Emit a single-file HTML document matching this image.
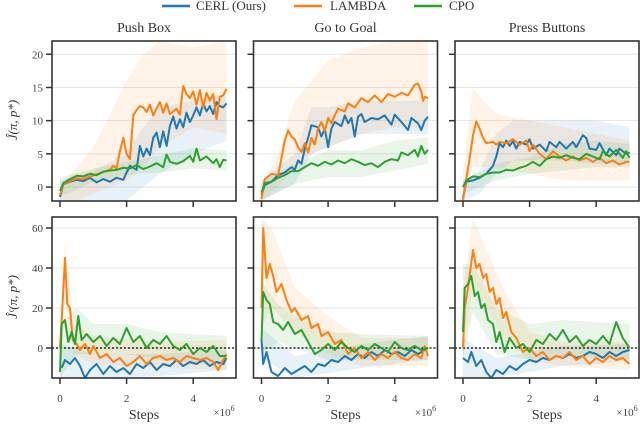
<!DOCTYPE html>
<html><head><meta charset="utf-8">
<style>
body{margin:0;background:#fff;}
svg{display:block;font-family:"Liberation Serif",serif;}
</style></head>
<body>
<svg id="chart" width="640" height="441" viewBox="0 0 640 441" xmlns="http://www.w3.org/2000/svg">
<g id="legend">
 <line x1="162" y1="6" x2="190" y2="6" stroke="#1f77b4" stroke-width="2.5"/>
 <text x="196" y="10" font-size="13" fill="#333">CERL (Ours)</text>
 <line x1="294" y1="6" x2="322" y2="6" stroke="#ff7f0e" stroke-width="2.5"/>
 <text x="330" y="10" font-size="13" fill="#333">LAMBDA</text>
 <line x1="414" y1="6" x2="442" y2="6" stroke="#2ca02c" stroke-width="2.5"/>
 <text x="449" y="10" font-size="13" fill="#333">CPO</text>
</g>
<text transform="translate(17,120) rotate(-90)" text-anchor="middle" font-size="13" font-style="italic" fill="#333">Ĵ(π, p*)</text>
<text transform="translate(17,297) rotate(-90)" text-anchor="middle" font-size="13" font-style="italic" fill="#333">Ĵᶜ(π, p*)</text>
</svg>
<script>
// ---- data (x in 1e6 steps) ----
const titles = ["Push Box","Go to Goal","Press Buttons"];
const topTicks = [0,5,10,15,20];
const botTicks = [0,20,40,60];
const xTicks = [0,2,4];
const topBlue0 = [[0,-1.5],[0.1,0.4],[0.3,0.8],[0.5,1.1],[0.7,0.9],[0.9,1.4],[1.1,0.7],[1.3,1.2],[1.5,0.8],[1.7,1.4],[1.9,1.1],[2.0,2.2],[2.1,3.2],[2.3,2.6],[2.4,6.2],[2.5,4.6],[2.6,5.8],[2.7,4.8],[2.8,7.4],[2.9,8.2],[3.0,6.0],[3.1,8.4],[3.2,6.2],[3.3,9.2],[3.4,10.6],[3.5,8.8],[3.6,10.2],[3.7,9.0],[3.8,11.2],[3.9,9.8],[4.0,10.8],[4.1,12.0],[4.2,10.8],[4.3,12.6],[4.4,11.4],[4.5,12.2],[4.6,11.0],[4.7,12.8],[4.8,12.2],[4.9,12.0],[5.0,12.6]];
const topOrange0 = [[0,-1.2],[0.1,0.4],[0.3,0.9],[0.5,1.3],[0.7,1.2],[0.9,1.6],[1.1,1.9],[1.3,2.3],[1.5,2.6],[1.6,3.2],[1.7,2.8],[1.8,5.4],[1.9,7.4],[2.0,5.0],[2.1,4.2],[2.2,10.8],[2.3,11.6],[2.4,12.2],[2.5,12.0],[2.6,11.3],[2.7,12.4],[2.8,10.8],[2.9,11.8],[3.0,12.8],[3.1,11.2],[3.2,12.6],[3.3,11.0],[3.5,11.8],[3.6,10.9],[3.7,15.2],[3.8,14.0],[3.9,13.4],[4.0,14.4],[4.1,12.4],[4.2,14.6],[4.3,12.0],[4.4,14.2],[4.5,13.0],[4.6,14.0],[4.7,10.2],[4.8,13.6],[4.9,13.8],[5.0,14.8]];
const topGreen0 = [[0,-0.6],[0.1,0.6],[0.3,1.2],[0.5,1.7],[0.7,1.6],[0.9,2.0],[1.1,1.8],[1.3,2.3],[1.5,2.5],[1.7,2.6],[1.9,2.9],[2.1,2.8],[2.3,3.3],[2.5,2.7],[2.7,3.1],[2.9,3.6],[3.1,3.0],[3.2,4.9],[3.3,3.8],[3.5,3.5],[3.7,3.9],[3.9,4.7],[4.0,3.8],[4.1,5.8],[4.2,4.0],[4.4,4.6],[4.6,3.6],[4.7,4.2],[4.8,3.0],[4.9,4.1],[5.0,4.0]];
const topBlue1 = [[0,-1.2],[0.1,0.3],[0.3,0.8],[0.5,1.8],[0.7,2.2],[0.9,3.0],[1.0,2.6],[1.1,4.0],[1.2,3.5],[1.3,5.8],[1.4,7.4],[1.5,9.3],[1.7,9.0],[1.8,7.6],[1.9,8.8],[2.0,6.0],[2.1,8.8],[2.2,9.8],[2.4,9.2],[2.5,10.8],[2.6,9.6],[2.7,10.4],[2.8,7.6],[2.9,10.6],[3.0,11.0],[3.1,9.8],[3.3,10.4],[3.5,10.2],[3.7,10.8],[3.9,9.4],[4.0,10.9],[4.2,9.8],[4.4,8.6],[4.5,10.4],[4.7,9.6],[4.8,8.6],[4.9,10.0],[5.0,10.6]];
const topOrange1 = [[0,-1.8],[0.1,1.2],[0.3,2.0],[0.5,1.8],[0.6,4.4],[0.7,7.0],[0.8,8.5],[0.9,7.6],[1.0,7.2],[1.1,6.0],[1.2,5.3],[1.3,6.6],[1.4,5.2],[1.5,7.4],[1.6,6.4],[1.7,8.8],[1.8,9.8],[1.9,8.4],[2.0,10.4],[2.1,9.6],[2.2,10.8],[2.3,11.8],[2.5,11.4],[2.6,12.6],[2.8,12.0],[3.0,13.4],[3.2,12.8],[3.4,13.8],[3.6,12.8],[3.8,14.0],[4.0,13.6],[4.2,14.2],[4.4,13.8],[4.6,15.4],[4.7,15.6],[4.8,14.4],[4.85,13.0],[4.9,13.6],[5.0,13.4]];
const topGreen1 = [[0,-0.8],[0.1,0.6],[0.3,0.8],[0.5,1.4],[0.7,1.8],[0.9,2.4],[1.1,2.4],[1.3,3.0],[1.5,3.6],[1.7,3.2],[1.9,3.8],[2.1,3.4],[2.3,4.0],[2.5,3.6],[2.7,4.2],[2.9,3.8],[3.1,3.3],[3.3,3.6],[3.5,3.0],[3.7,3.8],[3.9,4.2],[4.1,4.0],[4.2,5.2],[4.4,4.8],[4.6,5.6],[4.7,4.6],[4.8,6.2],[4.9,5.0],[5.0,5.6]];
const topBlue2 = [[0,-1.6],[0.1,0.8],[0.3,1.0],[0.5,1.4],[0.7,2.0],[0.9,3.2],[1.0,4.6],[1.1,6.6],[1.2,6.0],[1.3,7.0],[1.4,6.2],[1.5,6.9],[1.6,5.8],[1.7,6.8],[1.9,6.4],[2.0,7.2],[2.1,5.8],[2.3,6.4],[2.5,5.4],[2.6,6.8],[2.8,6.0],[2.9,6.8],[3.1,5.8],[3.3,6.8],[3.4,6.0],[3.6,7.8],[3.7,7.4],[3.8,5.8],[4.0,5.6],[4.1,6.6],[4.3,4.8],[4.4,5.8],[4.6,4.8],[4.7,5.8],[4.9,5.0],[5.0,5.2]];
const topOrange2 = [[0,-2.0],[0.1,1.2],[0.2,4.4],[0.3,7.8],[0.4,9.9],[0.5,8.8],[0.6,7.4],[0.7,6.6],[0.9,6.8],[1.0,6.4],[1.1,6.8],[1.3,6.6],[1.5,7.2],[1.7,6.4],[1.9,7.0],[2.0,5.4],[2.1,6.4],[2.3,5.0],[2.5,4.2],[2.7,5.4],[2.9,4.6],[3.1,4.0],[3.3,4.6],[3.5,4.0],[3.7,4.4],[3.9,3.8],[4.1,4.4],[4.3,3.6],[4.5,4.0],[4.7,3.4],[4.9,3.8],[5.0,3.8]];
const topGreen2 = [[0,0],[0.1,1.0],[0.3,1.6],[0.5,1.5],[0.7,2.0],[0.9,2.2],[1.1,2.2],[1.3,2.6],[1.5,2.5],[1.7,2.9],[1.9,3.2],[2.1,3.8],[2.3,3.2],[2.5,4.2],[2.7,4.6],[2.9,4.4],[3.1,4.8],[3.3,4.4],[3.5,4.2],[3.7,5.0],[3.9,4.6],[4.1,4.2],[4.2,5.4],[4.4,4.6],[4.6,5.6],[4.8,4.4],[4.9,5.4],[5.0,4.4]];
const botBlue0 = [[0.05,-10],[0.15,-6],[0.3,-8],[0.45,-5],[0.6,-9],[0.75,-15],[0.9,-11],[1.1,-8],[1.3,-13],[1.5,-9],[1.7,-12],[1.9,-10],[2.1,-13],[2.3,-8],[2.5,-10],[2.7,-7],[2.9,-11],[3.1,-8],[3.3,-9],[3.5,-6],[3.7,-9],[3.9,-7],[4.1,-8],[4.3,-6],[4.5,-9],[4.7,-7],[4.9,-8],[5.0,-5]];
const botOrange0 = [[0,0],[0.05,14],[0.15,45],[0.22,22],[0.3,20],[0.38,4],[0.5,2],[0.6,-1],[0.75,2],[0.9,-3],[1.0,1],[1.2,-5],[1.4,-3],[1.6,-7],[1.8,-5],[2.0,-9],[2.2,-7],[2.4,-4],[2.6,-8],[2.8,-5],[3.0,-4],[3.2,-6],[3.4,-5],[3.6,-7],[3.8,-4],[4.0,-5],[4.2,-6],[4.4,-5],[4.6,-7],[4.75,-11],[4.9,-6],[5.0,-3]];
const botGreen0 = [[0,-12],[0.05,12],[0.15,14],[0.25,3],[0.35,8],[0.45,2],[0.55,16],[0.65,4],[0.8,7],[1.0,3],[1.2,6],[1.4,1],[1.6,5],[1.8,2],[2.0,10],[2.2,3],[2.4,6],[2.6,0],[2.8,4],[3.0,2],[3.2,6],[3.4,1],[3.6,-1],[3.8,2],[4.0,-3],[4.2,0],[4.4,-2],[4.6,1],[4.8,-4],[5.0,-4]];
const botBlue1 = [[0,4],[0.05,-8],[0.15,-2],[0.3,-12],[0.5,-14],[0.7,-10],[0.9,-13],[1.1,-11],[1.3,-9],[1.5,-12],[1.7,-8],[1.9,-9],[2.1,-6],[2.3,-7],[2.5,-4],[2.7,-6],[2.9,-3],[3.1,-5],[3.3,-2],[3.5,-4],[3.7,-1],[3.9,-3],[4.1,-2],[4.3,-4],[4.5,-1],[4.7,-3],[4.9,-1],[5.0,0]];
const botOrange1 = [[0,20],[0.05,60],[0.15,35],[0.25,42],[0.35,36],[0.45,28],[0.6,32],[0.75,24],[0.9,18],[1.0,20],[1.2,14],[1.4,16],[1.5,10],[1.7,12],[1.8,6],[2.0,8],[2.2,2],[2.4,4],[2.6,-3],[2.8,0],[3.0,-5],[3.2,-2],[3.4,-6],[3.6,-3],[3.8,-5],[4.0,-2],[4.2,-5],[4.4,-6],[4.6,-3],[4.8,-5],[4.9,1],[5.0,-4]];
const botGreen1 = [[0,4],[0.05,28],[0.15,24],[0.25,22],[0.35,13],[0.5,12],[0.65,9],[0.8,13],[1.0,7],[1.2,9],[1.4,3],[1.6,-3],[1.8,-1],[2.0,2],[2.2,-1],[2.4,3],[2.6,0],[2.8,-2],[3.0,1],[3.2,-1],[3.4,2],[3.6,0],[3.8,-2],[4.0,3],[4.2,0],[4.4,-1],[4.6,1],[4.8,-1],[5.0,0]];
const botBlue2 = [[0,-5],[0.15,-7],[0.25,-2],[0.4,-9],[0.55,-6],[0.7,-12],[0.85,-15],[1.0,-11],[1.2,-13],[1.4,-9],[1.6,-11],[1.8,-8],[2.0,-6],[2.2,-7],[2.4,-5],[2.6,-6],[2.8,-4],[3.0,-5],[3.2,-3],[3.4,-5],[3.6,-4],[3.8,-2],[4.0,-3],[4.2,-5],[4.4,-2],[4.6,-4],[4.8,-2],[5.0,-1]];
const botOrange2 = [[0,0],[0.05,20],[0.15,30],[0.3,49],[0.4,40],[0.5,42],[0.6,35],[0.7,37],[0.8,28],[0.9,30],[1.0,22],[1.1,25],[1.2,15],[1.3,18],[1.45,8],[1.6,5],[1.8,-2],[2.0,0],[2.2,-4],[2.4,-2],[2.6,-6],[2.8,-4],[3.0,-5],[3.2,-2],[3.4,-6],[3.6,-4],[3.8,-8],[4.0,-5],[4.2,-7],[4.4,-4],[4.6,-6],[4.8,-5],[5.0,-8]];
const botGreen2 = [[0,8],[0.05,30],[0.15,32],[0.25,36],[0.35,26],[0.45,28],[0.55,20],[0.65,22],[0.75,14],[0.9,12],[1.0,3],[1.1,8],[1.25,-2],[1.4,5],[1.6,0],[1.8,2],[2.0,-2],[2.2,4],[2.4,2],[2.6,7],[2.8,4],[3.0,9],[3.2,3],[3.4,6],[3.6,1],[3.8,4],[4.0,2],[4.2,6],[4.4,2],[4.6,13],[4.8,5],[5.0,0]];
// band extents: [x, lo, hi]
const bandTop0 = [[[0,-2,1],[1,-2,2.5],[2,-2,5],[2.5,0,9],[3,2,12],[4,5,13],[5,7,14]],[[0,-2,0],[0.5,-2,3],[1,-1,6],[1.5,0,11],[2,1,16],[2.5,3,20],[3,6,22],[4,9,21],[5,8,22]],[[0,-1.5,1.5],[1,0.8,2.8],[2,1.8,3.8],[3,2.2,4.8],[4,2.8,5.8],[5,2.5,5.5]]];
const bandTop1 = [[[0,-2,1],[1,0.5,5],[1.5,5,12],[2,6,12],[3,8,13],[4,8,13],[5,8,13]],[[0,-2,0],[0.5,0,5],[1,3,13],[1.5,5,16],[2,6,19],[3,8,21],[4,9,22],[5,9,22]],[[0,-2,1],[1,0.5,3.5],[2,1.5,5.5],[3,1.5,5.5],[4,2.5,7],[5,3.5,7.5]]];
const bandTop2 = [[[0,-2,1],[0.5,-1,2.5],[1,2,8],[1.5,4,10],[2,4,10],[3,4,10],[4,3.5,10],[5,3.5,9]],[[0,-2,2],[0.3,3,15],[0.6,3,13],[1,3,11],[2,2,10],[3,1,9],[4,1,8],[5,1,7]],[[0,-1,1],[1,1,3.5],[2,2,4.5],[3,2.5,6.5],[4,3,7],[5,3,6.5]]];
const bandBot0 = [[[0,-15,2],[1,-15,-3],[3,-14,-3],[5,-11,-1]],[[0,-5,10],[0.15,25,55],[0.4,-3,12],[1,-8,6],[3,-10,3],[5,-11,4]],[[0,-15,12],[0.5,-3,20],[1,-3,12],[2,-3,12],[3,-6,8],[5,-9,6]]];
const bandBot1 = [[[0,-5,10],[1,-15,-4],[3,-10,2],[5,-6,6]],[[0,10,65],[0.3,20,60],[1,8,30],[2,-3,16],[3,-9,5],[5,-9,5]],[[0,-3,33],[0.5,3,22],[1,0,16],[2,-6,8],[3,-6,7],[5,-6,6]]];
const bandBot2 = [[[0,-15,5],[1,-15,-5],[3,-9,1],[5,-7,2]],[[0,-5,30],[0.3,32,65],[0.7,20,50],[1.2,5,30],[2,-6,8],[3,-9,3],[5,-11,3]],[[0,-5,42],[0.3,18,42],[1,-3,20],[2,-6,12],[3,-4,14],[5,-6,12]]];

const topData = [[topBlue0,topOrange0,topGreen0],[topBlue1,topOrange1,topGreen1],[topBlue2,topOrange2,topGreen2]];
const botData = [[botBlue0,botOrange0,botGreen0],[botBlue1,botOrange1,botGreen1],[botBlue2,botOrange2,botGreen2]];
const topBands = [bandTop0,bandTop1,bandTop2];
const botBands = [bandBot0,bandBot1,bandBot2];

const colors = ["#1f77b4","#ff7f0e","#2ca02c"];
const names = ["cerl","lambda","cpo"];
const NS = "http://www.w3.org/2000/svg";
const svg = document.getElementById("chart");
function mk(tag, attrs, parent){const e=document.createElementNS(NS,tag);for(const k in attrs)e.setAttribute(k,attrs[k]);(parent||svg).appendChild(e);return e;}

const panelW = 184, pitch = 201.5;
const rows = [
  {top:41,bottom:201,ymin:-2.1,ymax:22.0,ticks:topTicks,data:topData,bands:topBands,label:"reward"},
  {top:217,bottom:378,ymin:-15,ymax:65.5,ticks:botTicks,data:botData,bands:botBands,label:"cost"}
];
rows.forEach((r,ri)=>{
  for(let p=0;p<3;p++){
    const left = 52 + pitch*p;
    const xs = v => left + 8 + v*33.3;
    const ys = v => r.bottom - (v - r.ymin)/(r.ymax - r.ymin)*(r.bottom - r.top);
    const g = mk("g",{});
    
    
    const cid = "clip"+ri+p;
    const cp = mk("clipPath",{id:cid},g);
    mk("rect",{x:left,y:r.top,width:panelW,height:r.bottom-r.top},cp);
    r.ticks.forEach(t=>{
      const gl = mk("line",{x1:left,x2:left+panelW,y1:ys(t),y2:ys(t),stroke:"#e6e6e6","stroke-width":1},g);
      
      
      const tk = mk("line",{x1:left-6,x2:left,y1:ys(t),y2:ys(t),stroke:"#333","stroke-width":1.5},g);
      
      
      if(p===0){
        const tl = mk("text",{x:left-9,y:ys(t)+4,"text-anchor":"end","font-size":11,fill:"#444"},g);
        tl.textContent = t;
        
        
      }
    });
    const plot = mk("g",{"clip-path":"url(#"+cid+")"},g);
    r.bands[p].forEach((b,si)=>{
      let d = b.map((q,i)=>(i?"L":"M")+xs(q[0])+","+ys(q[2])).join("");
      d += b.slice().reverse().map(q=>"L"+xs(q[0])+","+ys(q[1])).join("")+"Z";
      const band = mk("path",{d:d,fill:colors[si],"fill-opacity":0.1,stroke:"none"},plot);
      
      
    });
    if(ri===1){
      const zl = mk("line",{x1:left,x2:left+panelW,y1:ys(0),y2:ys(0),stroke:"#000","stroke-width":1.2,"stroke-dasharray":"2,2"},plot);
      
      
    }
    r.data[p].forEach((s,si)=>{
      const pts = s.map(q=>xs(q[0]).toFixed(1)+","+ys(q[1]).toFixed(1)).join(" ");
      const pl = mk("polyline",{points:pts,fill:"none",stroke:colors[si],"stroke-width":2,"stroke-linejoin":"round"},plot);
      
      
    });
    const fr = mk("rect",{x:left,y:r.top,width:panelW,height:r.bottom-r.top,fill:"none",stroke:"#333","stroke-width":1.6},g);
    
    
    xTicks.forEach(t=>{
      const xt = mk("line",{x1:xs(t),x2:xs(t),y1:r.bottom,y2:r.bottom+6,stroke:"#333","stroke-width":1.5},g);
      
      
      if(ri===1){
        const xl = mk("text",{x:xs(t),y:402,"text-anchor":"middle","font-size":11,fill:"#444"},g);
        xl.textContent = t;
        
        
      }
    });
    if(ri===0){
      const tt = mk("text",{x:left+panelW/2,y:32,"text-anchor":"middle","font-size":14,fill:"#333"},g);
      tt.textContent = titles[p];
      
      
    } else {
      const st = mk("text",{x:left+92,y:419,"text-anchor":"middle","font-size":14,fill:"#333"},g);
      st.textContent = "Steps";
      
      
      const sc = mk("text",{x:left+172,y:416,"text-anchor":"middle","font-size":11,fill:"#444"},g);
      sc.innerHTML = '×10<tspan dy="-5" font-size="8">6</tspan>';
      
      
    }
  }
});
</script>
</body></html>
